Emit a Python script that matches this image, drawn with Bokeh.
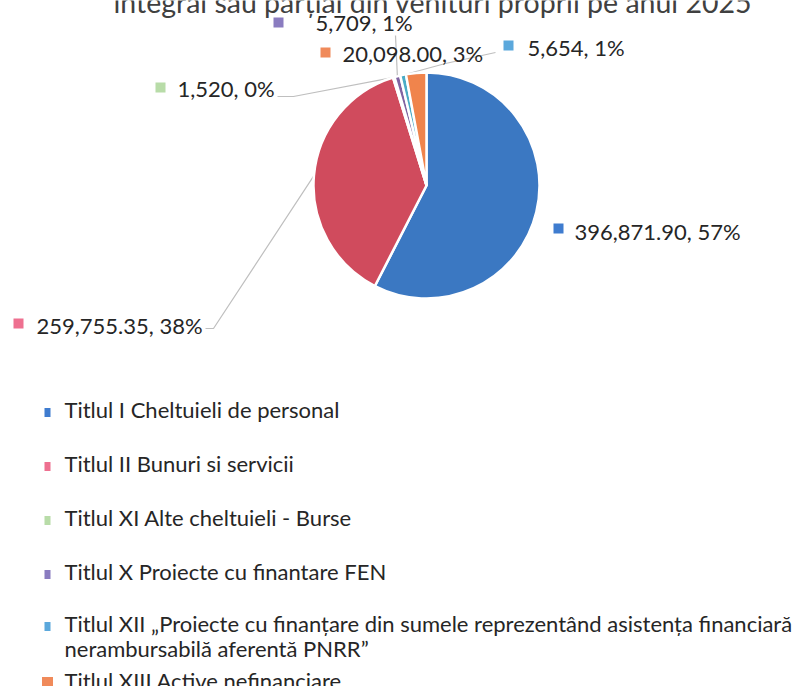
import numpy as np
from bokeh.plotting import figure
from bokeh.models import Range1d, ColumnDataSource
from bokeh.embed import file_html
from bokeh.resources import INLINE
from bokeh.core.properties import value

# ---------------- data ----------------
title_text = "integral sau parțial din venituri proprii pe anul 2025"
categories = [
    "Titlul I Cheltuieli de personal",
    "Titlul II Bunuri si servicii",
    "Titlul XI Alte cheltuieli - Burse",
    "Titlul X Proiecte cu finantare FEN",
    "Titlul XII „Proiecte cu finanțare din sumele reprezentând asistența financiară\nnerambursabilă aferentă PNRR”",
    "Titlul XIII Active nefinanciare",
]
values = [396871.90, 259755.35, 1520, 5709, 5654, 20098.00]
value_labels = ["396,871.90", "259,755.35", "1,520", "5,709", "5,654", "20,098.00"]
pct_labels = ["57%", "38%", "0%", "1%", "1%", "3%"]

slice_colors = ["#3b78c2", "#d04b5d", "#a9d18e", "#8064a2", "#4bacc6", "#f0844c"]
marker_colors = ["#3f7ccf", "#ee7090", "#b8dca8", "#8a7cc0", "#5ba8dc", "#f08a5a"]

# ---------------- layout ----------------
W, H = 808, 686
FONT = "Lato"


def Y(py):
    return H - py


p = figure(width=W, height=H, x_range=Range1d(0, W), y_range=Range1d(0, H),
           output_backend="svg", toolbar_location=None, min_border=0)
p.axis.visible = False
p.grid.visible = False
p.outline_line_color = None
p.background_fill_color = "white"
p.border_fill_color = "white"

# title (top part cut off, as in the reference)
p.text(x=[113], y=[Y(1)], text=[title_text], text_font=value(FONT),
       text_font_size="28.5px", text_color="#404040", text_baseline="middle")

# pie geometry
cx, cy, r = 426, Y(185), 113
frac = np.array(values) / sum(values)
cum = np.concatenate([[0.0], np.cumsum(frac)])
start = np.pi / 2 - 2 * np.pi * cum[1:]
end = np.pi / 2 - 2 * np.pi * cum[:-1]
mid = (start + end) / 2
edge_x = cx + r * np.cos(mid)
edge_y = cy + r * np.sin(mid)

# leader lines (bend points in page pixels)
bends = {
    1: [(213, 328), (205, 328)],
    2: [(293, 96), (277, 96)],
    3: [(395, 35)],
    4: [(445, 63), (495, 52)],
}
xs, ys = [], []
for i, pts in bends.items():
    xs.append([edge_x[i]] + [px for px, _ in pts])
    ys.append([edge_y[i]] + [Y(py) for _, py in pts])
p.multi_line(xs=xs, ys=ys, line_color="#bfbfbf", line_width=1.2)

src = ColumnDataSource(dict(start=start, end=end, color=slice_colors))
p.wedge(x=cx, y=cy, radius=r, start_angle="start", end_angle="end",
        fill_color="color", line_color="white", line_width=2.5, source=src)

# data labels: marker centre (x, y), text x, text y  (page pixels)
lab_pos = [(558, 228, 574, 231), (18, 323, 36, 325), (160, 87, 177, 88),
           (278, 22, 315, 22), (508, 45, 527, 47), (325, 52, 342, 53)]
for i, (mx, my, tx, ty) in enumerate(lab_pos):
    p.rect(x=[mx], y=[Y(my)], width=10, height=10, fill_color=marker_colors[i],
           line_color=None)
    p.text(x=[tx], y=[Y(ty)], text=[f"{value_labels[i]}, {pct_labels[i]}"],
           text_font=value(FONT), text_font_size="22px", text_color="#262626",
           text_baseline="middle")

# legend (text middles and marker centres, page pixels)
leg_mid = [409, 463, 517, 571, 623, 680]
for i, cat in enumerate(categories):
    lines = cat.split("\n")
    m = leg_mid[i]
    mw, mh = (11, 13) if i == 5 else (6, 9)
    p.rect(x=[47], y=[Y(m + 3)], width=mw, height=mh, fill_color=marker_colors[i],
           line_color=None)
    for k, ln in enumerate(lines):
        p.text(x=[64], y=[Y(m + 25 * k)], text=[ln], text_font=value(FONT),
               text_font_size="22px", text_color="#262626",
               text_baseline="middle")

open("out.html", "w").write(file_html(p, INLINE))
